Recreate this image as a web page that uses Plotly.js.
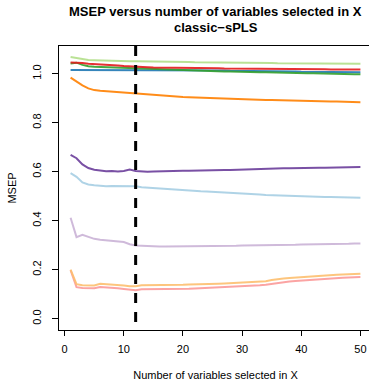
<!DOCTYPE html>
<html><head><meta charset="utf-8">
<script src="https://cdn.plot.ly/plotly-3.0.1.min.js"></script>
<style>html,body{margin:0;padding:0;overflow:hidden;background:#fff;}#chart{width:375px;height:381px;}</style>
</head><body><div id="chart"></div>
<script>
const nVar = [];
for (let i = 1; i <= 50; i++) nVar.push(i);

const lightGreen = [1.068,1.063,1.058,1.056,1.055,1.054,1.054,1.053,1.053,1.052,1.051,1.051,1.051,1.050,1.050,1.049,1.049,1.049,1.048,1.048,1.048,1.047,1.047,1.047,1.046,1.046,1.046,1.045,1.045,1.045,1.045,1.044,1.044,1.044,1.044,1.043,1.043,1.043,1.043,1.043,1.042,1.042,1.042,1.042,1.042,1.041,1.041,1.041,1.041,1.041];
const red = [1.046,1.046,1.044,1.041,1.040,1.039,1.037,1.035,1.033,1.031,1.029,1.028,1.027,1.026,1.025,1.025,1.024,1.024,1.024,1.023,1.023,1.023,1.022,1.022,1.022,1.022,1.021,1.021,1.021,1.021,1.020,1.020,1.020,1.020,1.019,1.019,1.019,1.019,1.019,1.018,1.018,1.018,1.018,1.018,1.017,1.017,1.017,1.017,1.017,1.017];
const green = [1.042,1.045,1.036,1.030,1.028,1.027,1.026,1.025,1.024,1.023,1.022,1.021,1.020,1.019,1.018,1.017,1.016,1.015,1.014,1.014,1.013,1.012,1.012,1.011,1.010,1.010,1.009,1.009,1.008,1.008,1.007,1.007,1.006,1.006,1.005,1.005,1.004,1.004,1.003,1.003,1.002,1.002,1.001,1.001,1.000,1.000,0.999,0.999,0.998,0.998];
const blue = [1.015,1.015,1.015,1.015,1.015,1.016,1.016,1.016,1.016,1.016,1.016,1.016,1.016,1.016,1.016,1.016,1.016,1.015,1.015,1.015,1.015,1.014,1.014,1.014,1.013,1.013,1.013,1.012,1.012,1.011,1.011,1.011,1.010,1.010,1.010,1.009,1.009,1.009,1.009,1.008,1.008,1.008,1.008,1.007,1.007,1.007,1.007,1.006,1.006,1.006];
const orange = [0.984,0.968,0.952,0.940,0.933,0.930,0.928,0.926,0.925,0.923,0.922,0.920,0.916,0.914,0.912,0.911,0.909,0.908,0.906,0.905,0.904,0.903,0.902,0.901,0.900,0.899,0.898,0.898,0.897,0.896,0.896,0.895,0.894,0.893,0.893,0.892,0.891,0.891,0.890,0.889,0.889,0.888,0.888,0.887,0.886,0.886,0.885,0.885,0.884,0.883];
const purple = [0.669,0.655,0.630,0.615,0.608,0.604,0.602,0.603,0.601,0.603,0.609,0.603,0.601,0.600,0.601,0.602,0.603,0.603,0.603,0.604,0.604,0.605,0.604,0.605,0.606,0.606,0.607,0.607,0.608,0.608,0.609,0.610,0.611,0.612,0.613,0.613,0.614,0.614,0.615,0.615,0.615,0.616,0.616,0.616,0.617,0.617,0.617,0.618,0.618,0.619];
const lightBlue = [0.594,0.579,0.556,0.548,0.545,0.542,0.541,0.542,0.542,0.542,0.541,0.541,0.537,0.535,0.534,0.532,0.531,0.529,0.527,0.526,0.524,0.522,0.520,0.519,0.518,0.516,0.515,0.514,0.512,0.511,0.510,0.508,0.507,0.505,0.504,0.503,0.502,0.501,0.501,0.500,0.499,0.499,0.498,0.497,0.497,0.496,0.496,0.495,0.495,0.494];
const lightPurple = [0.412,0.333,0.342,0.334,0.326,0.322,0.320,0.318,0.316,0.313,0.304,0.299,0.298,0.296,0.295,0.295,0.295,0.295,0.295,0.296,0.296,0.296,0.297,0.297,0.297,0.298,0.298,0.298,0.298,0.299,0.299,0.300,0.300,0.300,0.301,0.301,0.302,0.302,0.302,0.303,0.303,0.304,0.304,0.304,0.305,0.305,0.306,0.306,0.307,0.307];
const lightOrange = [0.200,0.141,0.137,0.136,0.136,0.143,0.142,0.141,0.139,0.136,0.133,0.133,0.137,0.137,0.136,0.136,0.137,0.138,0.139,0.139,0.140,0.140,0.141,0.141,0.142,0.143,0.144,0.145,0.146,0.147,0.148,0.150,0.151,0.153,0.158,0.162,0.164,0.166,0.168,0.170,0.171,0.173,0.175,0.176,0.178,0.179,0.180,0.181,0.182,0.184];
const pink = [0.198,0.129,0.125,0.124,0.124,0.129,0.128,0.127,0.124,0.121,0.117,0.116,0.120,0.120,0.119,0.119,0.120,0.120,0.120,0.121,0.122,0.123,0.124,0.125,0.126,0.127,0.128,0.129,0.131,0.132,0.134,0.135,0.137,0.139,0.143,0.147,0.150,0.152,0.154,0.156,0.158,0.160,0.161,0.163,0.164,0.166,0.167,0.168,0.169,0.170];

const seriesValues = [lightBlue, blue, lightGreen, green, pink, red, lightOrange, orange, lightPurple, purple];
const seriesColors = ['#A6CEE3','#1F78B4','#B2DF8A','#33A02C','#FB9A99','#E31A1C','#FDBF6F','#FF7F00','#CAB2D6','#6A3D9A'];
const selectedX = 12;
const xTicks = [0,10,20,30,40,50];
const yTicks = [0.0,0.2,0.4,0.6,0.8,1.0];

const traces = seriesValues.map((v, i) => ({
  x: nVar, y: v, type: 'scatter', mode: 'lines',
  line: {color: seriesColors[i], width: 2}, opacity: 0.9, hoverinfo: 'skip', showlegend: false
}));

const font = 'Liberation Sans, Arial, sans-serif';
const layout = {
  width: 375, height: 381,
  margin: {l: 59, r: 3, t: 46, b: 51},
  paper_bgcolor: '#fff', plot_bgcolor: '#fff',
  font: {family: font, size: 11, color: '#000'},
  showlegend: false,
  xaxis: {
    range: [-0.96, 51.96], tickvals: xTicks, ticks: 'outside', ticklen: 5, tickcolor: '#000', tickwidth: 1,
    showline: true, mirror: true, linecolor: '#000', linewidth: 1, showgrid: false, zeroline: false,
    ticklabelstandoff: 4, tickfont: {size: 11, color: '#000'},
    title: {text: 'Number of variables selected in X', font: {size: 11, color: '#000'}, standoff: 18}
  },
  yaxis: {
    range: [-0.046, 1.113], tickvals: yTicks, tickformat: '.1f', ticks: 'outside', ticklen: 6, tickcolor: '#000', tickwidth: 1,
    showline: true, mirror: true, linecolor: '#000', linewidth: 1, showgrid: false, zeroline: false,
    tickangle: -90, ticklabelstandoff: 7, tickfont: {size: 11, color: '#000'},
    title: {text: 'MSEP', font: {size: 11, color: '#000'}, standoff: 11}
  },
  annotations: [
    {text: '<b>MSEP versus number of variables selected in X</b>', xref: 'paper', yref: 'paper', x: 0.5, y: 1 + (46 - 12)/284, xanchor: 'center', yanchor: 'middle', showarrow: false, font: {size: 13, color: '#000'}, borderpad: 0},
    {text: '<b>classic\u2212sPLS</b>', xref: 'paper', yref: 'paper', x: 0.5, y: 1 + (46 - 27.5)/284, xanchor: 'center', yanchor: 'middle', showarrow: false, font: {size: 13, color: '#000'}, borderpad: 0}
  ],
  shapes: [
    {type: 'line', xref: 'x', yref: 'paper', x0: selectedX, x1: selectedX, y0: 1, y1: 0, line: {color: '#000', width: 3, dash: '10px,9px'}}
  ]
};

Plotly.newPlot('chart', traces, layout, {displayModeBar: false, staticPlot: true});
</script></body></html>
